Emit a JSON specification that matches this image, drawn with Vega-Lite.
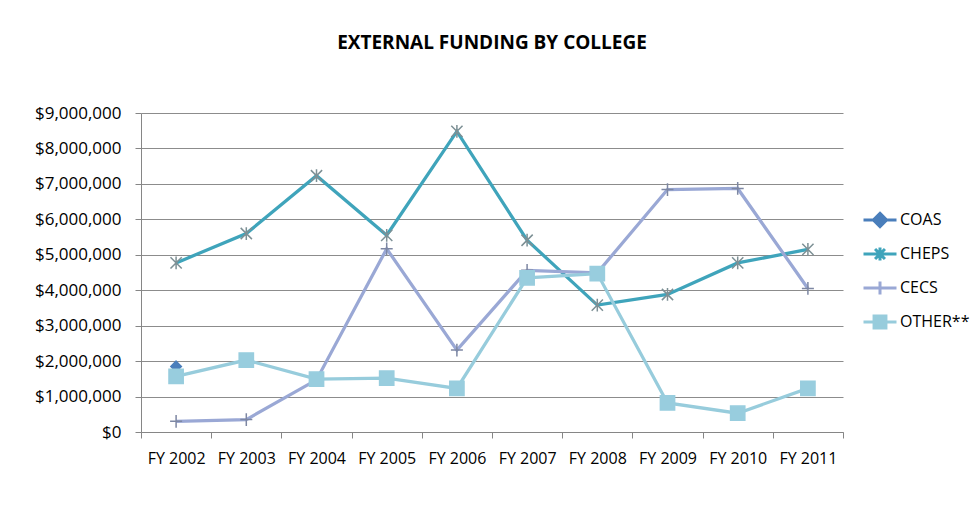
{
  "$schema": "https://vega.github.io/schema/vega-lite/v6.json",
  "autosize": "none",
  "width": 702,
  "height": 319,
  "padding": {"left": 141, "top": 113, "right": 129, "bottom": 96},
  "background": "white",
  "config": {
    "view": {"stroke": null},
    "font": "Open Sans",
    "axis": {"labelFont": "Open Sans", "labelFontSize": 16, "labelColor": "#000000", "domainColor": "#868686", "tickColor": "#868686", "gridColor": "#8c8c8c", "tickSize": 6, "title": null}
  },
  "title": {"text": "EXTERNAL FUNDING BY COLLEGE", "fontSize": 19, "fontWeight": "bold", "color": "#000000", "font": "Open Sans", "anchor": "middle", "offset": 51},
  "data": {"values": [
    {"fy": "FY 2002", "college": "COAS", "value": 1850000},
    {"fy": "FY 2002", "college": "CHEPS", "value": 4770000},
    {"fy": "FY 2003", "college": "CHEPS", "value": 5600000},
    {"fy": "FY 2004", "college": "CHEPS", "value": 7230000},
    {"fy": "FY 2005", "college": "CHEPS", "value": 5550000},
    {"fy": "FY 2006", "college": "CHEPS", "value": 8480000},
    {"fy": "FY 2007", "college": "CHEPS", "value": 5410000},
    {"fy": "FY 2008", "college": "CHEPS", "value": 3580000},
    {"fy": "FY 2009", "college": "CHEPS", "value": 3880000},
    {"fy": "FY 2010", "college": "CHEPS", "value": 4770000},
    {"fy": "FY 2011", "college": "CHEPS", "value": 5150000},
    {"fy": "FY 2002", "college": "CECS", "value": 300000},
    {"fy": "FY 2003", "college": "CECS", "value": 350000},
    {"fy": "FY 2004", "college": "CECS", "value": 1470000},
    {"fy": "FY 2005", "college": "CECS", "value": 5170000},
    {"fy": "FY 2006", "college": "CECS", "value": 2310000},
    {"fy": "FY 2007", "college": "CECS", "value": 4560000},
    {"fy": "FY 2008", "college": "CECS", "value": 4490000},
    {"fy": "FY 2009", "college": "CECS", "value": 6840000},
    {"fy": "FY 2010", "college": "CECS", "value": 6870000},
    {"fy": "FY 2011", "college": "CECS", "value": 4050000},
    {"fy": "FY 2002", "college": "OTHER**", "value": 1570000},
    {"fy": "FY 2003", "college": "OTHER**", "value": 2030000},
    {"fy": "FY 2004", "college": "OTHER**", "value": 1490000},
    {"fy": "FY 2005", "college": "OTHER**", "value": 1520000},
    {"fy": "FY 2006", "college": "OTHER**", "value": 1230000},
    {"fy": "FY 2007", "college": "OTHER**", "value": 4350000},
    {"fy": "FY 2008", "college": "OTHER**", "value": 4470000},
    {"fy": "FY 2009", "college": "OTHER**", "value": 820000},
    {"fy": "FY 2010", "college": "OTHER**", "value": 530000},
    {"fy": "FY 2011", "college": "OTHER**", "value": 1230000}
  ]},
  "encoding": {
    "x": {"field": "fy", "type": "ordinal", "scale": {"type": "band", "paddingInner": 0, "paddingOuter": 0},
      "axis": {"labelAngle": 0, "tickBand": "extent", "labelPadding": 12, "grid": false}},
    "y": {"field": "value", "type": "quantitative", "scale": {"domain": [0, 9000000], "nice": false},
      "axis": {"values": [0, 1000000, 2000000, 3000000, 4000000, 5000000, 6000000, 7000000, 8000000, 9000000], "format": "$,.0f", "labelFontSize": 17, "labelPadding": 14, "grid": true, "gridWidth": 1}}
  },
  "layer": [
    {
      "mark": {"type": "line", "strokeWidth": 3.25},
      "encoding": {
        "color": {"field": "college", "type": "nominal", "scale": {"domain": ["COAS", "CHEPS", "CECS", "OTHER**"], "range": ["#4A7EBB", "#3FA4BB", "#9AA8D5", "#97CCDC"]}, "legend": null}
      }
    },
    {
      "mark": {"type": "point", "size": 225, "strokeWidth": 1.5, "opacity": 1, "filled": true},
      "encoding": {
        "shape": {"field": "college", "type": "nominal", "scale": {"domain": ["COAS", "CHEPS", "CECS", "OTHER**"], "range": ["M0,-0.7L0.7,0L0,0.7L-0.7,0Z", "M-0.75,-0.75L0.75,0.75M-0.75,0.75L0.75,-0.75M0,-0.85V0.85", "M0,-0.85V0.85M-0.8,0H0.8", "M-0.95,-0.95H0.95V0.95H-0.95Z"]}, "legend": null},
        "stroke": {"field": "college", "type": "nominal", "scale": {"domain": ["COAS", "CHEPS", "CECS", "OTHER**"], "range": ["#4A7EBB", "#7d9095", "#7d87a3", "#98CDDE"]}, "legend": null},
        "fill": {"field": "college", "type": "nominal", "scale": {"domain": ["COAS", "CHEPS", "CECS", "OTHER**"], "range": ["#4A7EBB", "transparent", "transparent", "#98CDDE"]}, "legend": null}
      }
    },
    {
      "mark": {"type": "point", "size": 1089, "strokeWidth": 3, "opacity": 0, "filled": true},
      "encoding": {
        "shape": {"field": "college", "type": "nominal", "scale": {"domain": ["COAS", "CHEPS", "CECS", "OTHER**"], "range": ["M-1,0H1M0,-0.4L0.4,0L0,0.4L-0.4,0Z", "M-1,0H1M-0.3,-0.3L0.3,0.3M-0.3,0.3L0.3,-0.3M0,-0.4V0.4", "M-1,0H1M0,-0.4V0.4", "M-1,0H1M-0.36,-0.36H0.36V0.36H-0.36Z"]},
          "legend": {"orient": "none", "legendX": 721, "legendY": 89, "title": null, "symbolOpacity": 1, "symbolSize": 1089, "symbolStrokeWidth": 3, "rowPadding": 3, "labelFont": "Open Sans", "labelFontSize": 16, "labelColor": "#000000", "labelOffset": 2, "padding": 0}},
        "stroke": {"field": "college", "type": "nominal", "scale": {"domain": ["COAS", "CHEPS", "CECS", "OTHER**"], "range": ["#4A7EBB", "#3FA4BB", "#9AA8D5", "#97CCDC"]}},
        "fill": {"field": "college", "type": "nominal", "scale": {"domain": ["COAS", "CHEPS", "CECS", "OTHER**"], "range": ["#4A7EBB", "transparent", "transparent", "#97CCDC"]}}
      }
    }
  ],
  "resolve": {"scale": {"shape": "independent", "stroke": "independent", "fill": "independent"}}
}
